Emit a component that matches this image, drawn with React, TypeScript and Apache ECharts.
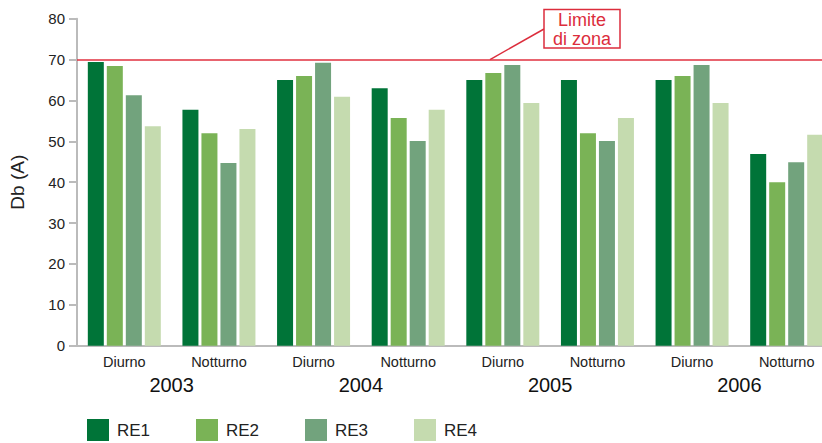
import React, { useEffect, useRef } from "react";
import * as echarts from "echarts";

const categories = ["Diurno", "Notturno", "Diurno", "Notturno", "Diurno", "Notturno", "Diurno", "Notturno"];
const years = ["2003", "2004", "2005", "2006"];
const re1 = [69.4, 57.7, 65.0, 63.0, 65.0, 65.0, 65.0, 46.9];
const re2 = [68.4, 52.0, 66.0, 55.7, 66.7, 52.0, 66.0, 40.0];
const re3 = [61.3, 44.7, 69.2, 50.1, 68.7, 50.1, 68.7, 44.9];
const re4 = [53.7, 53.0, 60.9, 57.7, 59.4, 55.7, 59.4, 51.6];
const seriesNames = ["RE1", "RE2", "RE3", "RE4"];
const colors = ["#007438", "#7AB356", "#72A37D", "#C5DBAF"];
const limitValue = 70;
const limitLabel = "Limite\ndi zona";

const FONT = "'Liberation Sans', Arial, Helvetica, sans-serif";
const RED = "#DC2D3C";

export default function App() {
  const ref = useRef<HTMLDivElement>(null);
  useEffect(() => {
    document.body.style.margin = "0";
    if (!ref.current) return;
    const chart = echarts.init(ref.current, undefined, { renderer: "svg" });
    const data = [re1, re2, re3, re4];
    chart.setOption({
      animation: false,
      textStyle: { fontFamily: FONT },
      grid: {
        left: 77,
        top: 18.7,
        bottom: 97.3,
        width: 757,
        containLabel: false,
        outerBoundsMode: "none",
      },
      legend: seriesNames.map((name, i) => ({
        left: 87 + i * 109,
        top: 419,
        padding: 0,
        itemWidth: 22,
        itemHeight: 22,
        icon: "rect",
        data: [name],
        textStyle: { fontSize: 17, lineHeight: 18, color: "#222", fontFamily: FONT, padding: [0, 0, 0, 3] },
      })),
      xAxis: [
        {
          type: "category",
          data: categories,
          axisLine: { show: true, lineStyle: { color: "#BBBBBB", width: 2 } },
          axisTick: { show: false },
          axisLabel: { fontSize: 14.5, color: "#222", margin: 9, fontFamily: FONT },
        },
        {
          type: "category",
          data: years,
          position: "bottom",
          offset: 22,
          axisLine: { show: false },
          axisTick: { show: false },
          axisLabel: { fontSize: 20, color: "#111", margin: 7, fontFamily: FONT },
        },
      ],
      yAxis: {
        type: "value",
        min: 0,
        max: 80,
        interval: 10,
        name: "Db (A)",
        nameLocation: "middle",
        nameGap: 50,
        nameTextStyle: { fontSize: 19, color: "#222", fontFamily: FONT },
        axisLine: { show: true, lineStyle: { color: "#BBBBBB", width: 2 } },
        axisTick: { show: true, length: 8, lineStyle: { color: "#BBBBBB", width: 2 } },
        axisLabel: { fontSize: 15, color: "#222", margin: 12, fontFamily: FONT },
        splitLine: { show: false },
      },
      series: seriesNames.map((name, i) => ({
        name,
        type: "bar",
        xAxisIndex: 0,
        data: data[i],
        barWidth: 16,
        barGap: "18.75%",
        itemStyle: { color: colors[i] },
        ...(i === 0
          ? {
              markLine: {
                silent: true,
                symbol: "none",
                label: { show: false },
                lineStyle: { color: "#E0303F", width: 1.5, type: "solid" },
                data: [{ yAxis: limitValue }],
              },
            }
          : {}),
      })),
    });
    const ly = chart.convertToPixel({ yAxisIndex: 0 }, limitValue) as number;
    chart.setOption({
      graphic: [
        {
          type: "line",
          shape: { x1: 490, y1: ly, x2: 544, y2: 29 },
          style: { stroke: RED, lineWidth: 1.5 },
        },
        {
          type: "rect",
          shape: { x: 544, y: 9.5, width: 76, height: 38.5 },
          style: { fill: "#fff", stroke: RED, lineWidth: 1.5 },
        },
        {
          type: "text",
          x: 582,
          y: 29,
          style: {
            text: limitLabel,
            fill: RED,
            fontSize: 18,
            lineHeight: 19,
            fontFamily: FONT,
            align: "center",
            verticalAlign: "middle",
          },
        },
      ],
    });
    return () => chart.dispose();
  }, []);
  return <div ref={ref} style={{ width: 822, height: 443 }} />;
}
